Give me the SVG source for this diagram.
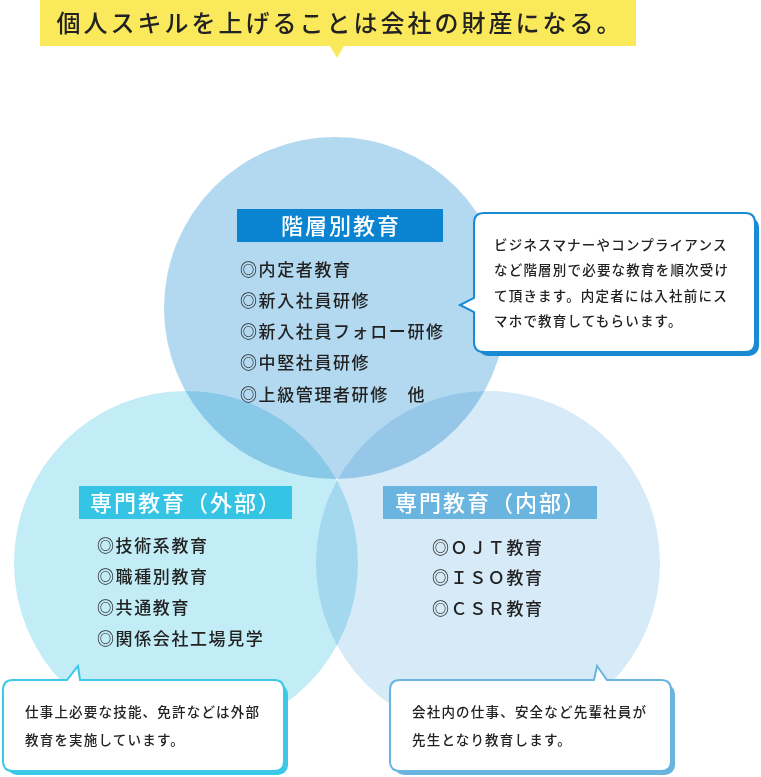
<svg xmlns="http://www.w3.org/2000/svg" width="761" height="777" viewBox="0 0 761 777">
<style>
text{font-family:"Noto Sans CJK JP","Noto Sans",sans-serif;fill:#222}
.h{fill:#fff;font-size:22px;text-anchor:middle;letter-spacing:2px;font-weight:500}
.li{font-size:17px;letter-spacing:1.6px;font-weight:500}
.bt{font-size:13.5px;letter-spacing:1.2px;font-weight:500}
.c{mix-blend-mode:multiply}
</style>
<rect width="761" height="777" fill="#fff"/>
<g id="banner">
<rect x="40" y="0" width="596" height="46" fill="#fbe95c"/>
<polygon points="330,46 344,46 337,58" fill="#fbe95c"/>
<text x="340" y="32" text-anchor="middle" font-size="24" font-weight="500" letter-spacing="3" style="fill:#222">個人スキルを上げることは会社の財産になる。</text>
</g>
<g id="circles">
<circle class="c" cx="335" cy="308" r="171" fill="#b3d9f0"/>
<circle class="c" cx="186" cy="563" r="172" fill="#c2ecf6"/>
<circle class="c" cx="488" cy="563" r="172" fill="#d6eaf7"/>
</g>
<g id="node-top">
<rect x="237" y="209" width="206" height="33" fill="#0a84d0"/>
<text class="h" x="341" y="234">階層別教育</text>
<text class="li" x="240" y="276">◎内定者教育</text>
<text class="li" x="240" y="307">◎新入社員研修</text>
<text class="li" x="240" y="338">◎新入社員フォロー研修</text>
<text class="li" x="240" y="369">◎中堅社員研修</text>
<text class="li" x="240" y="401" xml:space="preserve">◎上級管理者研修　他</text>
</g>
<g id="node-left">
<rect x="79" y="486" width="213" height="33" fill="#35c4e4"/>
<text class="h" x="186" y="511">専門教育（外部）</text>
<text class="li" x="97" y="552">◎技術系教育</text>
<text class="li" x="97" y="583">◎職種別教育</text>
<text class="li" x="97" y="614">◎共通教育</text>
<text class="li" x="97" y="645">◎関係会社工場見学</text>
</g>
<g id="node-right">
<rect x="383" y="486" width="214" height="33" fill="#6ab4e0"/>
<text class="h" x="491" y="511">専門教育（内部）</text>
<text class="li" x="432" y="554">◎ＯＪＴ教育</text>
<text class="li" x="432" y="584">◎ＩＳＯ教育</text>
<text class="li" x="432" y="615">◎ＣＳＲ教育</text>
</g>
<g id="bubble-top">
<rect x="478" y="217" width="281" height="139" rx="10" fill="#1a8ad3"/>
<path d="M484,213 H745 Q755,213 755,223 V342 Q755,352 745,352 H484 Q474,352 474,342 V312 L460,305 L474,298 V223 Q474,213 484,213 Z" fill="#fff" stroke="#1a8ad3" stroke-width="2"/>
<text class="bt" x="494" y="250">ビジネスマナーやコンプライアンス</text>
<text class="bt" x="494" y="275">など階層別で必要な教育を順次受け</text>
<text class="bt" x="494" y="301">て頂きます。内定者には入社前にス</text>
<text class="bt" x="494" y="326">マホで教育してもらいます。</text>
</g>
<g id="bubble-left">
<rect x="7" y="684" width="281" height="91" rx="10" fill="#3cc8e6"/>
<path d="M13,680 H67 L78,666 L80,680 H274 Q284,680 284,690 V761 Q284,771 274,771 H13 Q3,771 3,761 V690 Q3,680 13,680 Z" fill="#fff" stroke="#3cc8e6" stroke-width="2"/>
<text class="bt" x="25" y="717">仕事上必要な技能、免許などは外部</text>
<text class="bt" x="25" y="745">教育を実施しています。</text>
</g>
<g id="bubble-right">
<rect x="394" y="684" width="281" height="91" rx="10" fill="#6ab4e0"/>
<path d="M400,680 H594 L597,666 L607,680 H661 Q671,680 671,690 V761 Q671,771 661,771 H400 Q390,771 390,761 V690 Q390,680 400,680 Z" fill="#fff" stroke="#6ab4e0" stroke-width="2"/>
<text class="bt" x="412" y="717">会社内の仕事、安全など先輩社員が</text>
<text class="bt" x="412" y="745">先生となり教育します。</text>
</g>
<g id="connectors"/>
</svg>
